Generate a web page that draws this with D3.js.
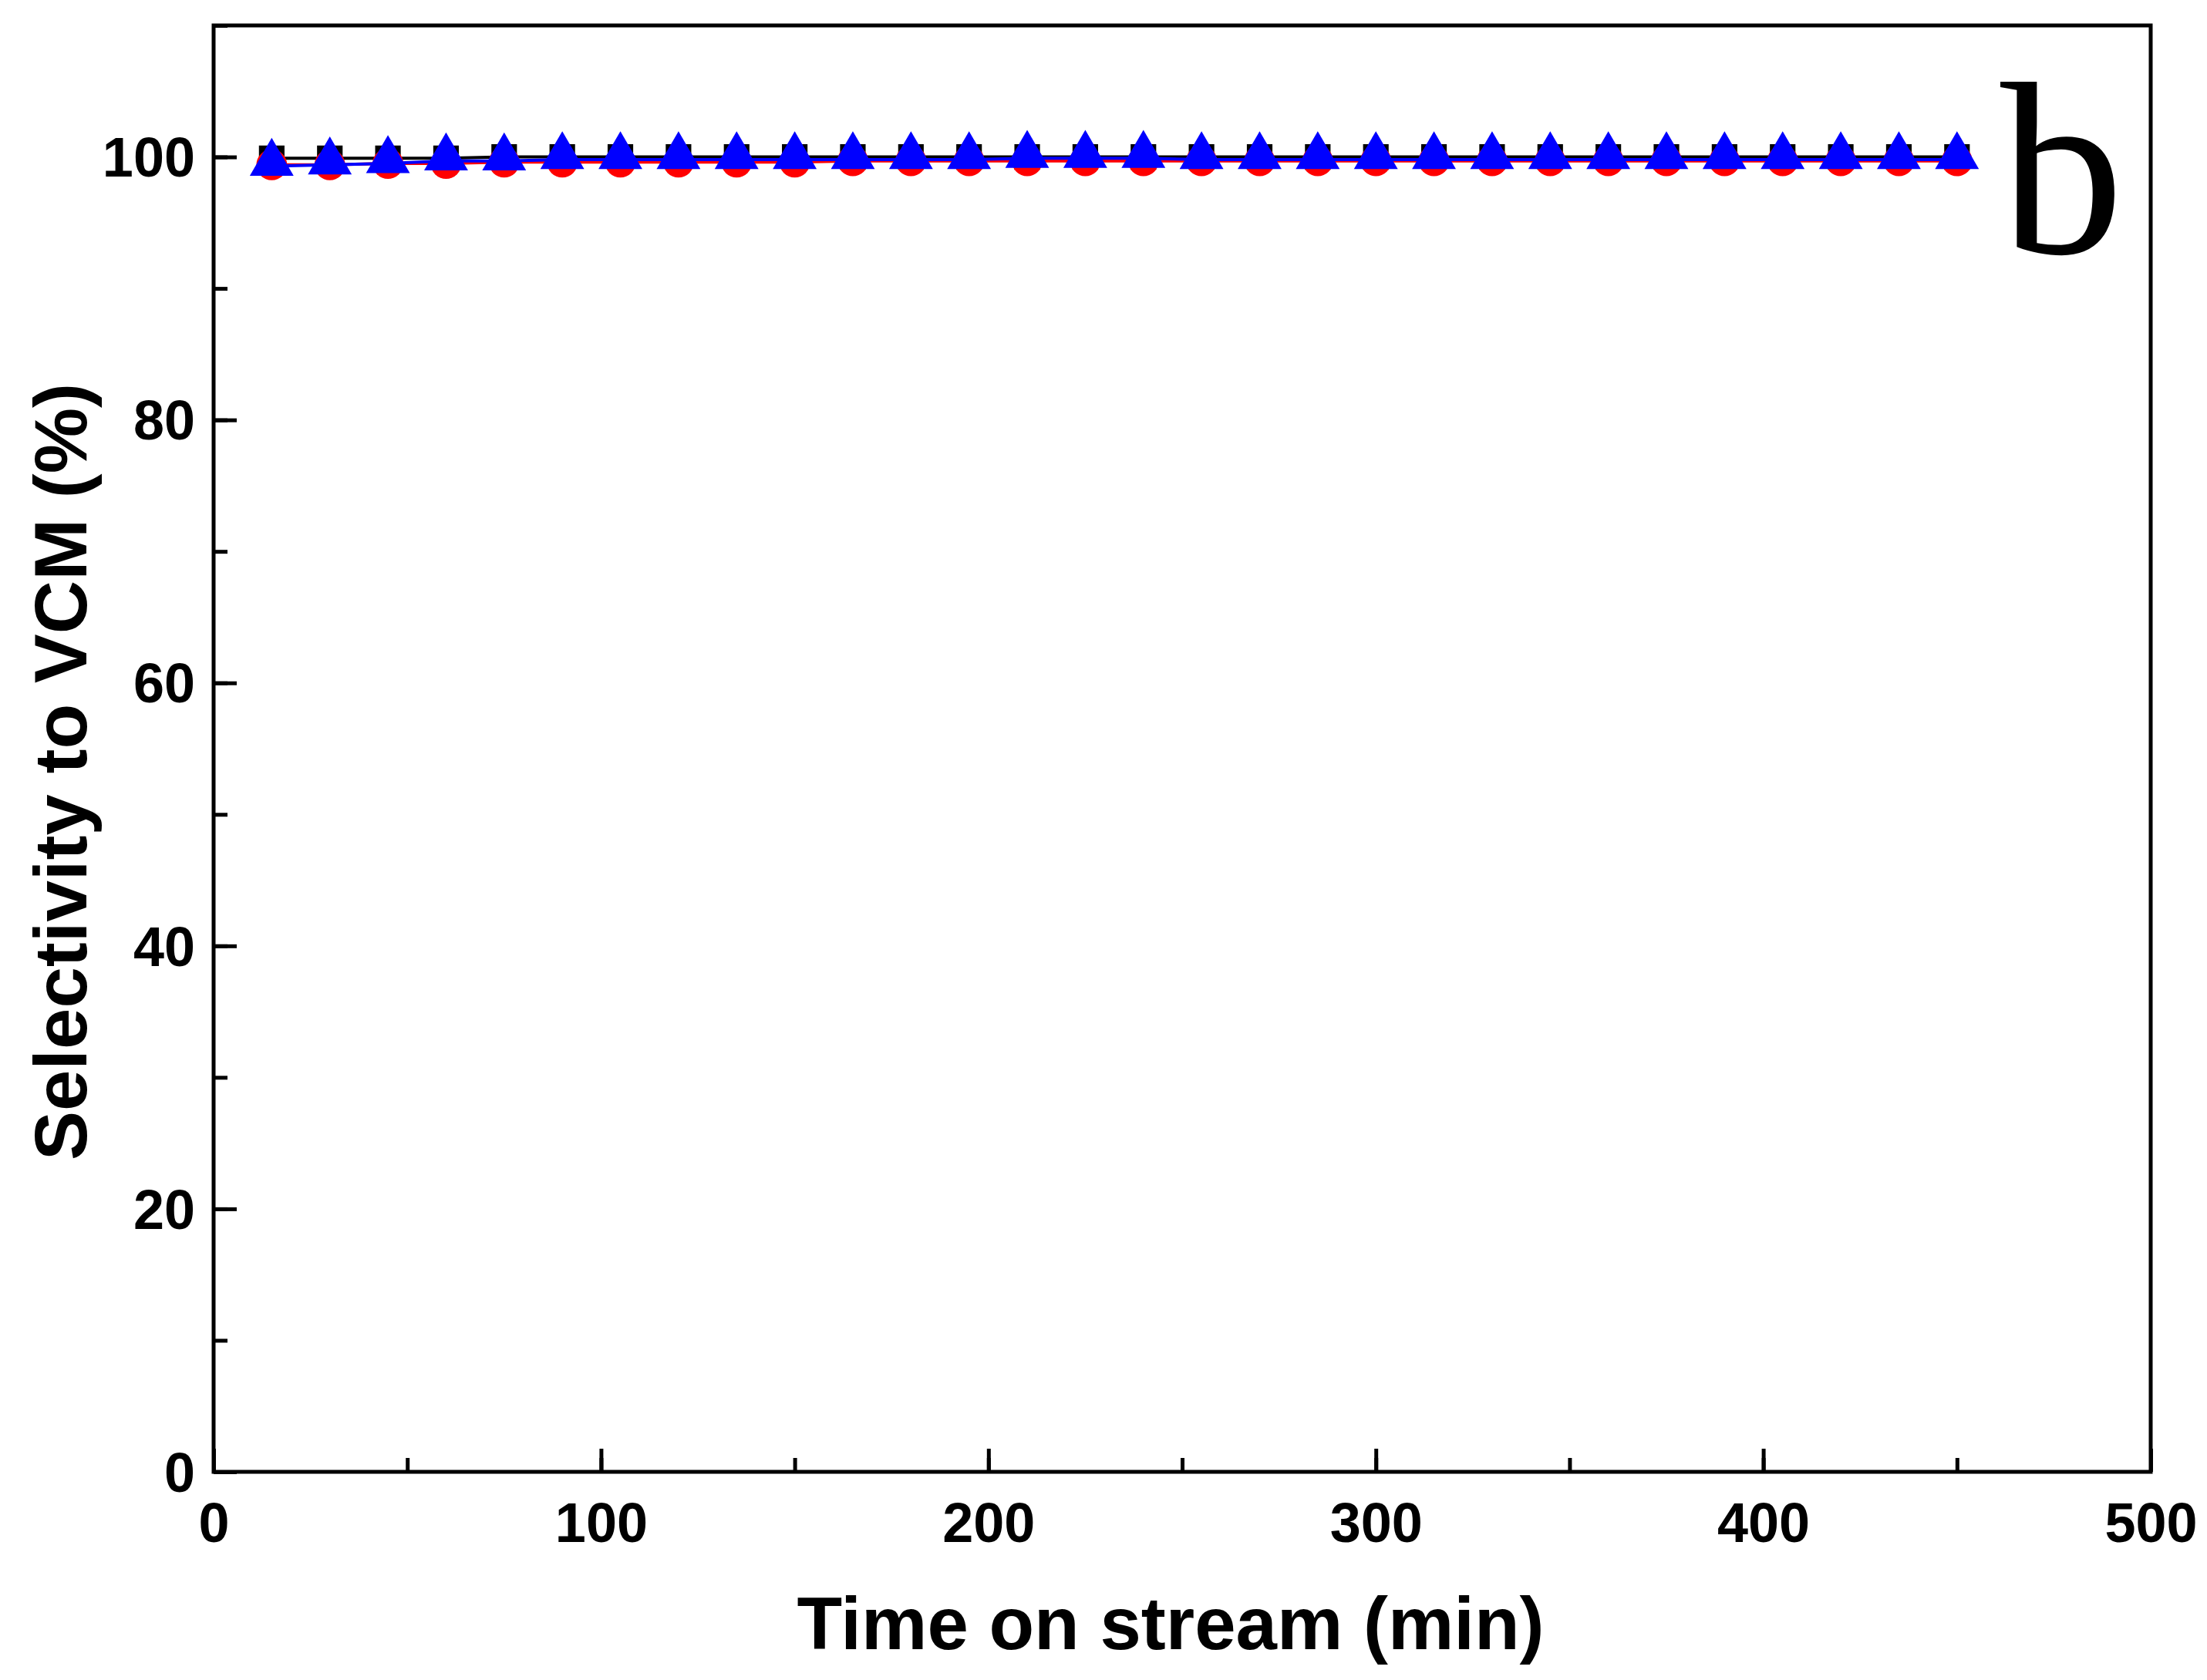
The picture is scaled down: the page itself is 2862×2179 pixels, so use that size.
<!DOCTYPE html>
<html><head><meta charset="utf-8">
<script src="https://cdn.jsdelivr.net/npm/d3@7"></script>
<style>body{margin:0;background:#fff}</style></head>
<body><script>
let times = [15,30,45,60,75,90,105,120,135,150,165,180,195,210,225,240,255,270,285,300,315,330,345,360,375,390,405,420,435,450];
let squares = [99.9,99.9,99.9,99.9,100,100,100,100,100,100,100,100,100,100,100,100,100,100,100,100,100,100,100,100,100,100,100,100,100,100];
let circles = [99.4,99.4,99.5,99.5,99.6,99.6,99.6,99.6,99.6,99.6,99.7,99.7,99.7,99.7,99.7,99.7,99.7,99.7,99.7,99.7,99.7,99.7,99.7,99.7,99.7,99.7,99.7,99.7,99.7,99.7];
let triangles = [99.3,99.4,99.5,99.7,99.7,99.8,99.8,99.8,99.8,99.8,99.8,99.8,99.8,99.9,99.9,99.9,99.8,99.8,99.8,99.8,99.8,99.8,99.8,99.8,99.8,99.8,99.8,99.8,99.8,99.8];
let xTicks = [0,100,200,300,400,500];
let yTicks = [0,20,40,60,80,100];

let W = 2862, H = 2179;
let m = {l:277, r:73, t:33, b:270};
let svg = d3.select("body").append("svg").attr("width", W).attr("height", H);
let x = d3.scaleLinear().domain([0,500]).range([m.l, W-m.r]);
let y = d3.scaleLinear().domain([0,110]).range([H-m.b, m.t]);
let font = "Liberation Sans, Arial, sans-serif";

// minor ticks
svg.append("g").attr("transform","translate(0,"+(H-m.b)+")")
  .call(d3.axisBottom(x).tickValues(d3.range(0,501,50)).tickSize(-18).tickFormat(""));
svg.append("g").attr("transform","translate(0,"+(H-m.b)+")")
  .call(d3.axisBottom(x).tickValues(xTicks).tickSize(-30).tickPadding(40).tickFormat(d3.format("d")))
  .call(g=>g.selectAll("text").attr("font-size",72).attr("font-weight","bold").attr("font-family",font));
svg.append("g").attr("transform","translate("+m.l+",0)")
  .call(d3.axisLeft(y).tickValues(d3.range(0,111,10)).tickSize(-18).tickFormat(""));
svg.append("g").attr("transform","translate("+m.l+",0)")
  .call(d3.axisLeft(y).tickValues(yTicks).tickSize(-30).tickPadding(24).tickFormat(d3.format("d")))
  .call(g=>g.selectAll("text").attr("font-size",72).attr("font-weight","bold").attr("font-family",font).attr("dy","0.35em"));
svg.selectAll(".domain").remove();
svg.selectAll(".tick line").attr("stroke","#000").attr("stroke-width",5);

svg.append("rect").attr("x",m.l).attr("y",m.t).attr("width",W-m.l-m.r).attr("height",H-m.t-m.b)
  .attr("fill","none").attr("stroke","#000").attr("stroke-width",5);

let series = [
  {v:squares, c:"#000", sym:d3.symbolSquare, size:1100},
  {v:circles, c:"#ff0000", sym:d3.symbolCircle, size:1250},
  {v:triangles, c:"#0000ff", sym:d3.symbolTriangle, size:1400}
];
let line = d3.line().x((d,i)=>x(times[i])).y(d=>y(d));
series.forEach(s=>{
  svg.append("path").datum(s.v).attr("d",line).attr("fill","none").attr("stroke",s.c).attr("stroke-width",4);
});
series.forEach(s=>{
  svg.append("g").selectAll("path").data(s.v).enter().append("path")
    .attr("d", d3.symbol().type(s.sym).size(s.size))
    .attr("transform",(d,i)=>"translate("+x(times[i])+","+(y(d)+(s.sym===d3.symbolTriangle?-4:0))+")")
    .attr("fill",s.c);
});

svg.append("text").attr("x",(m.l+W-m.r)/2-15).attr("y",H-40).attr("text-anchor","middle")
  .attr("font-size",96).attr("font-weight","bold").attr("font-family",font).text("Time on stream (min)");
svg.append("text").attr("transform","translate(112,"+((m.t+H-m.b)/2+30)+") rotate(-90)").attr("text-anchor","middle")
  .attr("font-size",96).attr("font-weight","bold").attr("font-family",font).text("Selectivity to VCM (%)");
svg.append("text").attr("x",2674).attr("y",328).attr("text-anchor","middle")
  .attr("font-size",320).attr("font-family","Liberation Serif, Times New Roman, serif").text("b");
</script></body></html>
